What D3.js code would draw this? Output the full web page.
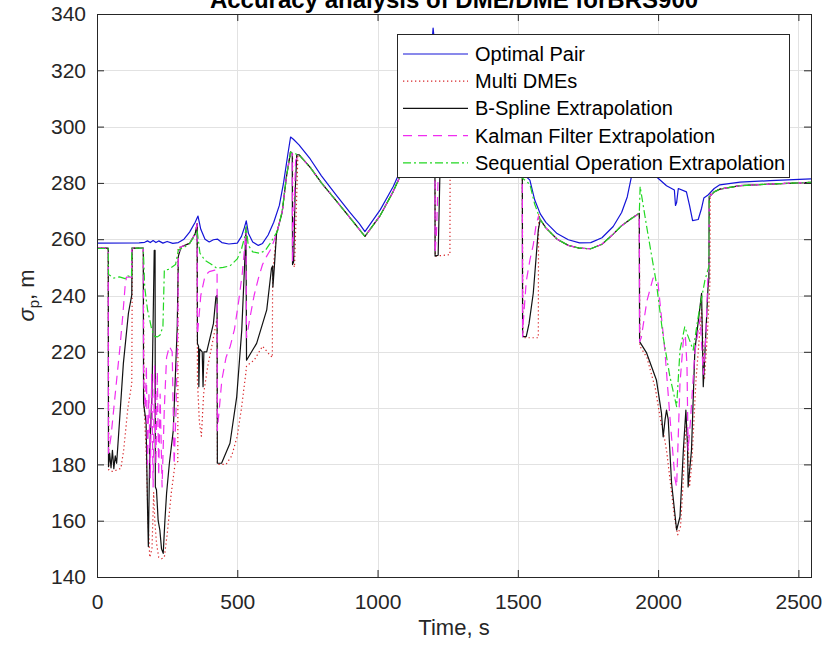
<!DOCTYPE html>
<html>
<head>
<meta charset="utf-8">
<script src="https://cdn.jsdelivr.net/npm/d3@7"></script>
<style>
  body { margin: 0; background: #fff; }
  svg  { display: block; font-family: "Liberation Sans", Arial, Helvetica, sans-serif; }
</style>
</head>
<body>
<svg id="chart" width="823" height="645"></svg>
<script>
// ── Data ─────────────────────────────────────────────────────────────────────
const X_DOMAIN = [0, 2545];
const Y_DOMAIN = [140, 340];
const X_TICKS  = [0, 500, 1000, 1500, 2000, 2500];
const Y_TICKS  = [140, 160, 180, 200, 220, 240, 260, 280, 300, 320, 340];

const SERIES_NAMES = ["Optimal Pair", "Multi DMEs", "B-Spline Extrapolation",
                      "Kalman Filter Extrapolation", "Sequential Operation Extrapolation"];

// shared stretches where the four extrapolation curves lie on top of each other
const midTail  = [[720,290],[760,285.5],[800,280],[850,274],[900,267.8],[955,261],[1010,268.5],
                  [1056,277],[1100,286.5],[1150,300],[1185,316],[1196,330]];
const lateTail = [[1580,267],[1600,264],[1640,260],[1680,257.8],[1720,256.8],[1760,256.6],
                  [1800,258.2],[1840,261.8],[1870,264.8],[1900,267],[1933,269.2]];
const endTail  = [[2182,275],[2200,276.8],[2220,277.8],[2292,279],[2400,279.6],[2545,280.2]];

const optimalPair = [
  [0,258.6],[150,258.7],[170,258.9],[180,259.4],[190,258.8],[200,259.5],[210,258.8],[220,259.4],
  [235,258.6],[250,259.2],[270,258.5],[290,258.8],[310,260],[330,262.5],[350,266],[360,268.2],
  [370,263.5],[385,260],[400,259],[415,259.8],[430,260],[445,258.8],[470,258.3],[500,258.6],
  [515,261],[525,264],[532,266.5],[540,262],[555,259],[575,257.8],[590,258.5],[610,261.5],
  [630,266],[650,272],[665,280],[680,290],[690,296.3],[700,295.5],[720,293.5],[760,288.5],
  [800,282.5],[850,276],[900,269.7],[935,265.5],[955,262.7],[975,265.5],[1010,270.5],[1056,278.7],
  [1100,288.5],[1150,302],[1185,318],[1198,335],[1203,330],[1215,318],[1250,308],[1300,302],
  [1400,292],[1500,285],[1543,281],[1560,274],[1580,269],[1600,266],[1640,262],[1680,259.8],
  [1720,258.7],[1760,258.8],[1800,260.5],[1840,264.5],[1870,269.5],[1890,275],[1910,284.6],
  [1950,300],[1975,292],[1996,282],[2030,279],[2058,277.5],[2062,272],[2066,273],[2072,278],
  [2101,276.8],[2112,272],[2123,266.6],[2143,267],[2155,271],[2163,274.6],[2178,275.7],
  [2200,278],[2220,279.3],[2292,280.3],[2400,280.8],[2545,281.4]
];

const multiDMEs = [
  [0,256.8],[40,256.8],[42,178],[55,177.5],[70,178],[85,178.6],[95,185],[110,200],[124,208.8],
  [126,256.8],[165,256.8],[168,200],[175,185],[182,160],[188,147],[196,150],[202,170],[206,160],
  [212,152],[220,147],[230,146.5],[240,147],[250,155],[265,170],[278,180],[288,181],[289,257],
  [300,257.3],[330,258.5],[350,262],[357,265.5],[358,210],[365,195],[372,190],[380,205],[395,215],
  [415,225],[428,232],[429,180],[444,180],[460,180],[480,183],[500,190],[515,200],[530,212],
  [533,215],[560,217],[590,222],[615,219],[625,218],[626,248],[640,262],[660,269.5],[675,282],
  [690,291],[697,290.5],[698,252],[704,250],[712,276],[716,290],
  ...midTail,
  [1204,326],[1206,254],[1258,254.5],[1259,305],[1300,300],[1400,290],[1500,283],[1516,282],
  [1518,225],[1573,225],[1574,269],
  ...lateTail,
  [1935,222],[1960,218],[1990,207],[2010,195],[2018,192],[2030,185],[2048,170],[2060,160],
  [2070,155],[2080,158],[2090,175],[2100,195],[2107,190],[2112,172],[2120,180],[2135,210],
  [2155,235],[2165,210],[2175,225],[2185,245],[2186,276],[2220,277.8],[2292,279],[2400,279.6],
  [2545,280.2]
];

const bSpline = [
  [0,256.8],[40,256.8],[41,179.2],[45,184],[50,178.8],[55,185],[60,178.5],[65,183],[70,180.4],
  [80,195],[94,215.9],[112,233.7],[124,240.2],[125,256.8],[165,256.8],[166,201.7],[175,195],
  [180,165],[183,150.8],[188,185],[196,205],[204,256],[207,256],[208,172],[212,171],[218,160],
  [224,156.7],[230,150],[236,148.4],[242,160],[248,169.7],[258,180.4],[272,192.2],[286,228.9],
  [290,254],[300,257.3],[330,258.5],[350,262],[357,265.5],[358,223],[362,222],[363,207.6],
  [366,221],[375,220],[378,207.6],[381,220],[391,220],[415,230],[424,239.6],[428,240],[429,180.4],
  [444,180.4],[474,187.5],[498,204],[516,227.7],[527,253],[531,264],[533,217],[569,223],
  [605,234.9],[622,249.7],[626,250.5],[627,243],[632,250],[640,262],[660,269.5],[675,282],
  [690,291],[696,290.5],[697,251],[701,252],[706,276],[712,290],
  ...midTail,
  [1204,326],[1205,254],[1216,254.3],[1222,282],[1228,305],[1250,306],[1300,300],[1400,290],
  [1500,283],[1516,282],[1517,225.4],[1530,225.4],[1540,230],[1555,240.8],[1573,263.3],
  ...lateTail,
  [1934,223.6],[1959,219.6],[1994,210],[2012,198.2],[2018,189.8],[2025,196],[2030,199.3],
  [2036,196],[2048,173.4],[2066,156.7],[2078,161.4],[2090,185],[2099,199.3],[2105,186],
  [2107,172],[2119,185],[2131,220.6],[2155,240.8],[2161,207.6],[2167,220],[2178,243],[2181,246],
  ...endTail
];

const kalman = [
  [0,256.8],[40,256.8],[41,184],[50,190],[60,200],[70,210],[82,221.8],[92,233],[100,243.1],
  [105,246.5],[123,246.5],[124,256.8],[165,256.8],[166,210],[172,200],[176,215],[180,180],
  [185,205],[190,175],[195,212],[200,172],[205,215],[210,180],[215,213],[220,176],[225,205],
  [232,172],[240,200],[248,218],[258,222],[268,220],[275,180],[282,200],[288,230],[290,255],
  [300,257.3],[330,258.5],[350,262],[357,265.5],[358,226],[370,240],[385,247],[400,248.5],
  [420,249],[428,249.2],[429,192],[445,210],[460,218],[475,222],[490,228],[505,238],[518,248],
  [527,258],[531,264],[533,225],[545,232],[560,240],[575,246],[590,251],[605,254],[620,256.5],
  [640,262],[660,269.5],[675,282],[690,291],[696,290.5],[697,252],[702,270],[708,288],
  ...midTail,
  [1204,326],[1205,255],[1210,262],[1216,282],[1222,305],[1250,306],[1300,300],[1400,290],
  [1500,283],[1516,282],[1517,225.4],[1519,230],[1530,245],[1543,252.6],[1555,258],[1565,265],
  [1573,268],
  ...lateTail,
  [1934,223.6],[1940,225],[1960,238],[1982,246.2],[1999,245],[2024,220.6],[2042,197],[2060,175],
  [2066,172],[2078,208.8],[2090,224],[2097,226],[2103,215],[2107,185],[2115,195],[2131,220],
  [2150,232],[2161,212],[2170,225],[2178,248],[2181,250],
  ...endTail
];

const sequential = [
  [0,256.7],[40,256.7],[41,247.5],[60,246.2],[80,246.6],[100,246],[110,247],[123,246.5],
  [124,256.8],[165,256.8],[170,243],[180,235],[195,228],[205,225.5],[215,225.3],[225,226],
  [235,229],[240,249],[255,249.3],[280,251],[290,256.2],[310,257],[330,258.5],[350,261.5],
  [357,263],[367,255],[385,252.5],[403,251.4],[427,249.7],[450,250],[474,250.5],[500,253],
  [515,256.5],[527,261],[532,264.5],[539,257.9],[555,255.5],[581,255],[600,256],[617,258.5],
  [644,263],[660,270],[675,282],[690,291],[700,290.5],
  ...midTail,
  [1203,328],[1215,316],[1250,306],[1300,300],[1400,290],[1500,283],[1543,279.5],[1560,272.5],
  ...lateTail,
  [1936,278.7],[1960,264],[1994,244.3],[2018,225.4],[2042,211.2],[2066,200.5],[2078,220.6],
  [2095,228.9],[2105,226],[2125,220.6],[2143,232.5],[2167,245.5],[2181,250.2],
  ...endTail
];

// ── Layout ───────────────────────────────────────────────────────────────────
const VW = 823, VH = 645;
const M  = { top: 14, right: 12, bottom: 68, left: 97 };
const INK = "#262626";

const svg = d3.select("#chart");
const x = d3.scaleLinear().domain(X_DOMAIN).range([M.left, VW - M.right]);
const y = d3.scaleLinear().domain(Y_DOMAIN).range([VH - M.bottom, M.top]);

// Grid
const grid = svg.append("g").attr("stroke", "#e2e2e2").attr("stroke-width", 1);
grid.selectAll("line.gx").data(X_TICKS).join("line")
  .attr("x1", d => Math.round(x(d)) + 0.5).attr("x2", d => Math.round(x(d)) + 0.5)
  .attr("y1", y.range()[1]).attr("y2", y.range()[0]);
grid.selectAll("line.gy").data(Y_TICKS).join("line")
  .attr("y1", d => Math.round(y(d)) + 0.5).attr("y2", d => Math.round(y(d)) + 0.5)
  .attr("x1", x.range()[0]).attr("x2", x.range()[1]);

// Lines
svg.append("clipPath").attr("id", "plot-clip").append("rect")
  .attr("x", M.left).attr("y", M.top)
  .attr("width", x.range()[1] - M.left).attr("height", y.range()[0] - M.top);

const styles = [
  { data: optimalPair, color: "#1414d8", dash: null },
  { data: multiDMEs,   color: "#d8262a", dash: "1.3,2.7" },
  { data: bSpline,     color: "#111111", dash: null },
  { data: kalman,      color: "#f02cf0", dash: "9,6" },
  { data: sequential,  color: "#22d822", dash: "8,3,2,3" }
];

const line = d3.line().x(d => x(d[0])).y(d => y(d[1]));
const plot = svg.append("g").attr("clip-path", "url(#plot-clip)");
styles.forEach(s => {
  plot.append("path")
    .attr("d", line(s.data))
    .attr("fill", "none")
    .attr("stroke", s.color)
    .attr("stroke-width", 1.2)
    .attr("stroke-linejoin", "round")
    .attr("stroke-dasharray", s.dash);
});

// Axes (MATLAB style: inward ticks on all four sides)
function styleAxis(sel) {
  sel.select(".domain").remove();
  sel.selectAll(".tick line").attr("stroke", INK);
  sel.selectAll(".tick text").attr("fill", INK).attr("font-size", "21px");
}
svg.append("g").attr("transform", `translate(0,${y.range()[0]})`)
  .call(d3.axisBottom(x).tickValues(X_TICKS).tickFormat(d3.format("d"))
    .tickSizeInner(-7).tickSizeOuter(0).tickPadding(17))
  .call(styleAxis);
svg.append("g").attr("transform", `translate(0,${M.top})`)
  .call(d3.axisTop(x).tickValues(X_TICKS).tickSizeInner(-7).tickSizeOuter(0).tickFormat(""))
  .call(styleAxis);
svg.append("g").attr("transform", `translate(${M.left},0)`)
  .call(d3.axisLeft(y).tickValues(Y_TICKS).tickFormat(d3.format("d"))
    .tickSizeInner(-7).tickSizeOuter(0).tickPadding(11))
  .call(styleAxis);
svg.append("g").attr("transform", `translate(${x.range()[1]},0)`)
  .call(d3.axisRight(y).tickValues(Y_TICKS).tickSizeInner(-7).tickSizeOuter(0).tickFormat(""))
  .call(styleAxis);

svg.append("rect")
  .attr("x", M.left + 0.5).attr("y", M.top + 0.5)
  .attr("width", x.range()[1] - M.left).attr("height", y.range()[0] - M.top)
  .attr("fill", "none").attr("stroke", INK).attr("stroke-width", 1);

// Labels
svg.append("text")
  .attr("x", (x.range()[0] + x.range()[1]) / 2).attr("y", 8)
  .attr("text-anchor", "middle").attr("font-size", "24px").attr("font-weight", "bold")
  .attr("fill", "#000").text("Accuracy analysis of DME/DME forBRS900");

svg.append("text")
  .attr("x", (x.range()[0] + x.range()[1]) / 2).attr("y", 635)
  .attr("text-anchor", "middle").attr("font-size", "22px").attr("fill", INK)
  .text("Time, s");

const yl = svg.append("text")
  .attr("transform", `translate(34,${(M.top + y.range()[0]) / 2}) rotate(-90)`)
  .attr("text-anchor", "middle").attr("font-size", "22px").attr("fill", INK);
yl.append("tspan").attr("font-style", "italic").text("σ");
yl.append("tspan").attr("font-size", "15px").attr("dy", 5).text("p");
yl.append("tspan").attr("dy", -5).text(", m");

// Legend
const LG = { x: 397, y: 34, w: 392, h: 143, row0: 54, rowH: 27.2 };
const lg = svg.append("g");
lg.append("rect")
  .attr("x", LG.x + 0.5).attr("y", LG.y + 0.5).attr("width", LG.w).attr("height", LG.h)
  .attr("fill", "#fff").attr("stroke", INK).attr("stroke-width", 1);
SERIES_NAMES.forEach((name, i) => {
  const cy = LG.row0 + i * LG.rowH;
  lg.append("line")
    .attr("x1", 403).attr("x2", 468).attr("y1", cy).attr("y2", cy)
    .attr("stroke", styles[i].color).attr("stroke-width", 1.2)
    .attr("stroke-dasharray", styles[i].dash);
  lg.append("text")
    .attr("x", 475).attr("y", cy).attr("dy", "0.35em")
    .attr("font-size", "20px").attr("fill", "#000").text(name);
});
</script>
</body>
</html>
